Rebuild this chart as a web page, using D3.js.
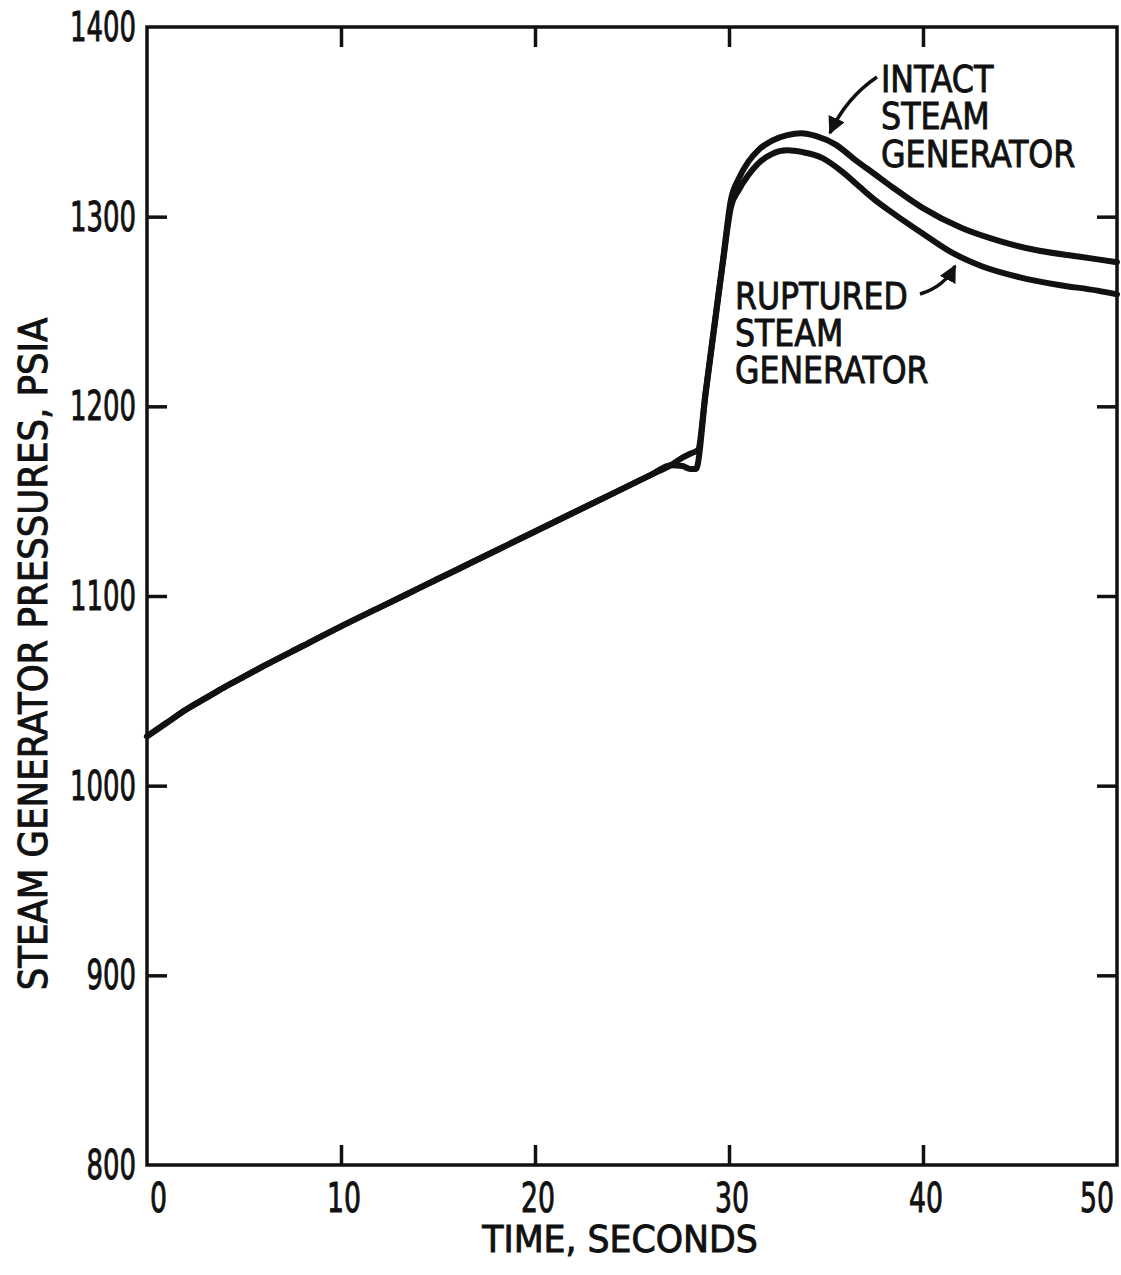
<!DOCTYPE html>
<html>
<head>
<meta charset="utf-8">
<script src="https://cdn.jsdelivr.net/npm/d3@7/dist/d3.min.js"></script>
<style>
  html, body { margin: 0; padding: 0; background: #fff; }
  svg text { font-family: "Liberation Sans Narrow", "DejaVu Sans Condensed", "DejaVu Sans", sans-serif; fill: #111; stroke: #111; stroke-width: 0.9px; }
</style>
</head>
<body>
<svg id="chart" width="1121" height="1275"></svg>
<script>
// Time axis (seconds) and pressure axis (psia)
const xTicks = [0, 10, 20, 30, 40, 50];
const yTicks = [800, 900, 1000, 1100, 1200, 1300, 1400];

// Intact steam generator pressure trace
const intactTime = [0, 1, 2, 3, 4, 5, 6, 8, 10, 12, 14, 16, 18, 20, 22, 24, 26, 27, 27.6, 28.0, 28.4,
  28.8, 29.3, 29.7, 30.1, 30.5, 31.0, 31.5, 32.2, 33.0, 33.7, 34.5, 35.5, 36.5, 37.5, 38.5, 40, 42, 44, 46, 48, 50];
const intactPsia = [1026, 1033, 1040, 1046, 1052, 1057.5, 1063, 1073.5, 1084, 1094, 1104, 1114, 1124, 1134, 1144, 1154, 1164, 1169, 1173, 1175, 1177,
  1208, 1247, 1278, 1309, 1320, 1329, 1335, 1340, 1343, 1344, 1342.5, 1338, 1330, 1322.5, 1315, 1304.5, 1294, 1287, 1282, 1279, 1276];

// Ruptured steam generator pressure trace
const rupturedTime = [0, 1, 2, 3, 4, 5, 6, 8, 10, 12, 14, 16, 18, 20, 22, 24, 26, 27, 27.6, 28.0, 28.3,
  28.8, 29.3, 29.7, 30.1, 30.5, 31.0, 31.5, 32.2, 33.0, 33.8, 34.8, 35.8, 36.7, 37.5, 38.5, 40, 41.5, 43, 45, 47, 49, 50];
const rupturedPsia = [1026, 1033, 1040, 1046, 1052, 1057.5, 1063, 1073.5, 1084, 1094, 1104, 1114, 1124, 1134, 1144, 1154, 1164, 1169, 1168.5, 1167, 1167,
  1207, 1246, 1277, 1305, 1314, 1322, 1328, 1333, 1335, 1334, 1331, 1324, 1316, 1309, 1301.5, 1291, 1281, 1274, 1268, 1264, 1261, 1259];

const intactLabel = ["INTACT", "STEAM", "GENERATOR"];
const rupturedLabel = ["RUPTURED", "STEAM", "GENERATOR"];
const xTitle = "TIME, SECONDS";
const yTitle = "STEAM GENERATOR PRESSURES, PSIA";

const svg = d3.select("#chart");
const ink = "#111";

const x = d3.scaleLinear().domain([0, 50]).range([147, 1117]);
const y = d3.scaleLinear().domain([800, 1400]).range([1165, 27]);

// place a text at (px, py), squeezed horizontally to a fixed advance per character
function placeText(sel, px, py, perChar, rot) {
  sel.each(function (d, i) {
    const t = d3.select(this);
    const natural = this.getComputedTextLength();
    const target = String(t.text()).length * perChar;
    const s = natural > 0 ? target / natural : 1;
    const X = typeof px === "function" ? px(d, i) : px;
    const Y = typeof py === "function" ? py(d, i) : py;
    t.attr("transform", `translate(${X},${Y})${rot ? ` rotate(${rot})` : ""} scale(${s},1)`);
  });
}

// inward ticks on all four sides
const tickLen = 20;
const axes = [
  { axis: d3.axisBottom(x).tickValues(xTicks.slice(1, -1)), t: `translate(0,${y(800)})` },
  { axis: d3.axisTop(x).tickValues(xTicks.slice(1, -1)), t: `translate(0,${y(1400)})` },
  { axis: d3.axisLeft(y).tickValues(yTicks.slice(1, -1)), t: `translate(${x(0)},0)` },
  { axis: d3.axisRight(y).tickValues(yTicks.slice(1, -1)), t: `translate(${x(50)},0)` }
];
axes.forEach(a => {
  const g = svg.append("g").attr("transform", a.t)
    .call(a.axis.tickSizeInner(-tickLen).tickSizeOuter(0).tickFormat(""));
  g.select(".domain").remove();
  g.selectAll(".tick line").attr("stroke", ink).attr("stroke-width", 3.5);
});

// plot frame
svg.append("rect")
  .attr("x", x(0)).attr("y", y(1400))
  .attr("width", x(50) - x(0)).attr("height", y(800) - y(1400))
  .attr("fill", "none").attr("stroke", ink).attr("stroke-width", 3.5);

// y tick labels
svg.append("g").selectAll("text").data(yTicks).join("text")
  .attr("text-anchor", "end")
  .attr("font-size", 41)
  .text(d => d)
  .call(placeText, x(0) - 11, d => y(d) + 14, 16.5);

// x tick labels
svg.append("g").selectAll("text").data(xTicks).join("text")
  .attr("text-anchor", d => d === 0 ? "start" : d === 50 ? "end" : "middle")
  .attr("font-size", 40)
  .text(d => d)
  .call(placeText, d => d === 0 ? x(d) + 3 : d === 50 ? x(d) - 3 : x(d) + 3, y(800) + 47, 17);

// axis titles
svg.append("text")
  .attr("text-anchor", "middle")
  .attr("font-size", 38)
  .text(xTitle)
  .call(placeText, 620, 1252, 21.2);

svg.append("text")
  .attr("text-anchor", "middle")
  .attr("font-size", 39)
  .text(yTitle)
  .call(placeText, 47, 654, 21.7, -90);

// pressure traces
const line = d3.line().curve(d3.curveMonotoneX);
const intactPts = intactTime.map((t, i) => [x(t), y(intactPsia[i])]);
const rupturedPts = rupturedTime.map((t, i) => [x(t), y(rupturedPsia[i])]);
[intactPts, rupturedPts].forEach(pts => {
  svg.append("path")
    .attr("d", line(pts))
    .attr("fill", "none")
    .attr("stroke", ink)
    .attr("stroke-width", 6)
    .attr("stroke-linejoin", "round")
    .attr("stroke-linecap", "round");
});

// multi-line curve labels: one text element, one tspan per line,
// squeezed so the longest line gets the given advance per character
function block(lines, x0, y0, lineGap, perChar) {
  const t = svg.append("text").attr("font-size", 38);
  const spans = t.selectAll("tspan").data(lines).join("tspan")
    .attr("x", 0)
    .attr("dy", (d, i) => i === 0 ? 0 : lineGap)
    .text(d => d);
  let longest = 0, natural = 1;
  spans.each(function (d) {
    if (d.length > longest) { longest = d.length; natural = this.getComputedTextLength(); }
  });
  const s = (longest * perChar) / natural;
  t.attr("transform", `translate(${x0},${y0}) scale(${s},1)`);
}
block(intactLabel, 881, 92, 37.5, 21.6);
block(rupturedLabel, 735, 309, 37, 21.5);

// leader arrows
const marker = svg.append("defs").append("marker")
  .attr("id", "head").attr("viewBox", "0 0 10 10")
  .attr("refX", 9).attr("refY", 5)
  .attr("markerWidth", 5).attr("markerHeight", 5)
  .attr("markerUnits", "strokeWidth")
  .attr("orient", "auto");
marker.append("path").attr("d", "M0,0 L10,5 L0,10 Z").attr("fill", ink);

svg.append("path")
  .attr("d", "M877,77 Q846,98 830,133")
  .attr("fill", "none").attr("stroke", ink).attr("stroke-width", 3.5)
  .attr("marker-end", "url(#head)");

svg.append("path")
  .attr("d", "M920,294 Q944,287 955,266")
  .attr("fill", "none").attr("stroke", ink).attr("stroke-width", 3.5)
  .attr("marker-end", "url(#head)");
</script>
</body>
</html>
